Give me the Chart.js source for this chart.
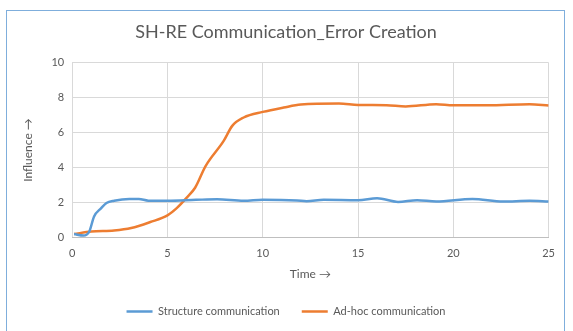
<!DOCTYPE html>
<html>
<head>
<meta charset="utf-8">
<script src="https://cdn.jsdelivr.net/npm/chart.js@4/dist/chart.umd.min.js"></script>
<style>
    body { margin: 0; background: #fff; }
    #box {
        position: absolute; left: 6px; top: 10px;
        width: 559px; height: 330px;
        border: 1px solid #7FAEDC;
        box-sizing: border-box;
    }
    #wrap { position: absolute; left: 0; top: 0; width: 557px; height: 320px; }
</style>
</head>
<body>
<div id="box"><div id="wrap"><canvas id="grafico"></canvas></div></div>
<script>
// valores
const tempoEstrutura = [0.1, 0.6, 0.9, 1.15, 1.5, 1.8, 2.2, 3.0, 3.5, 4.0, 5.0, 6.5, 7.6, 9.0, 10.0, 11.8, 12.3, 13.2, 15.0, 16.0, 17.1, 18.1, 19.1, 21.0, 22.6, 24.0, 25.0]
const valoresEstrutura = [0.19, 0.11, 0.34, 1.2, 1.65, 1.97, 2.1, 2.2, 2.2, 2.1, 2.1, 2.15, 2.18, 2.09, 2.15, 2.11, 2.07, 2.15, 2.13, 2.24, 2.03, 2.13, 2.05, 2.2, 2.05, 2.09, 2.05]

const tempoAdhoc = [0.1, 1.0, 2.2, 3.1, 4.1, 5.0, 5.5, 6.0, 6.45, 7.0, 7.95, 8.4, 9.0, 10.0, 11.1, 12.0, 14.0, 15.0, 16.5, 17.5, 19.1, 20.0, 21.8, 24.0, 25.0]
const valoresAdhoc = [0.19, 0.34, 0.4, 0.54, 0.88, 1.26, 1.69, 2.26, 2.84, 4.08, 5.52, 6.38, 6.86, 7.18, 7.43, 7.6, 7.66, 7.58, 7.56, 7.49, 7.62, 7.56, 7.56, 7.62, 7.54]

const nomesSeries = ["Structure communication", "Ad-hoc communication"]
const ticksX = [0, 5, 10, 15, 20, 25]
const ticksY = [0, 2, 4, 6, 8, 10]

const junta = (xs, ys) => xs.map((x, i) => ({ x: x, y: ys[i] }))

const fonte = "Lato, 'Open Sans', sans-serif"
const cinza = "#595959"

var ctx = document.getElementById('grafico')

var chartGraph = new Chart(ctx, {
    type: 'line',
    data: {
        datasets: [{
            label: nomesSeries[0],
            data: junta(tempoEstrutura, valoresEstrutura),
            borderColor: "#5B9BD5",
            backgroundColor: "#5B9BD5",
            borderWidth: 2.5,
            pointRadius: 0,
            cubicInterpolationMode: 'monotone'
        }, {
            label: nomesSeries[1],
            data: junta(tempoAdhoc, valoresAdhoc),
            borderColor: "#ED7D31",
            backgroundColor: "#ED7D31",
            borderWidth: 2.5,
            pointRadius: 0,
            cubicInterpolationMode: 'monotone'
        }]
    },
    options: {
        responsive: true,
        maintainAspectRatio: false,
        animation: false,
        layout: { padding: { left: 10, right: 9, top: 8, bottom: 4 } },
        plugins: {
            title: {
                display: true,
                text: "SH-RE Communication_Error Creation",
                color: cinza,
                font: { family: fonte, size: 18, weight: 'normal' },
                padding: { top: 2, bottom: 20 }
            },
            legend: {
                position: 'bottom',
                labels: {
                    color: cinza,
                    font: { family: fonte, size: 11 },
                    usePointStyle: true,
                    pointStyle: 'line',
                    pointStyleWidth: 26,
                    padding: 22
                }
            },
            tooltip: { enabled: false }
        },
        scales: {
            x: {
                type: 'linear',
                min: 0, max: 25,
                afterBuildTicks: (axis) => { axis.ticks = ticksX.map(v => ({ value: v })) },
                ticks: { color: cinza, font: { family: fonte, size: 11 }, padding: 9 },
                grid: { color: "#D9D9D9", drawTicks: false },
                border: { color: "#BFBFBF" },
                title: {
                    display: true, text: "Time →", color: cinza,
                    font: { family: fonte, size: 12 }, padding: { top: -2, bottom: 3 }
                }
            },
            y: {
                min: 0, max: 10,
                afterBuildTicks: (axis) => { axis.ticks = ticksY.map(v => ({ value: v })) },
                ticks: { color: cinza, font: { family: fonte, size: 11 }, padding: 8 },
                grid: { color: "#D9D9D9", drawTicks: false },
                border: { display: false },
                title: {
                    display: true, text: "Influence →", color: cinza,
                    font: { family: fonte, size: 12 }, padding: { bottom: 8 }
                }
            }
        }
    }
})
</script>
</body>
</html>
